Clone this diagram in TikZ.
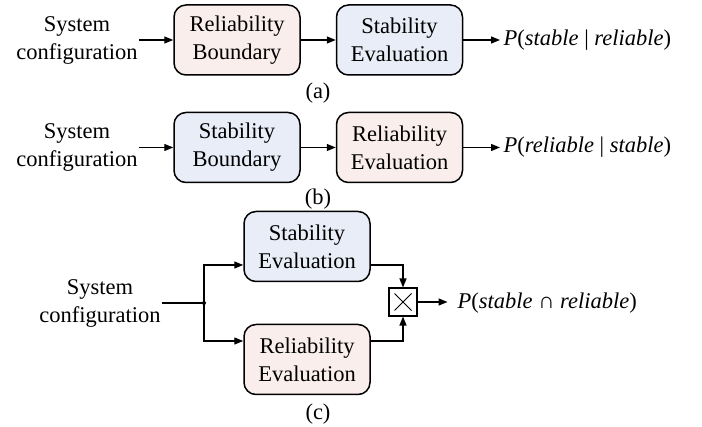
\documentclass[tikz,border=0pt]{standalone}
\usepackage{fontspec}
\setmainfont{Liberation Serif}
\usetikzlibrary{arrows.meta,calc}
\definecolor{relpink}{HTML}{F9EEEB}
\definecolor{stabblue}{HTML}{E9EDF8}
\begin{document}
\begin{tikzpicture}[
  x=1pt, y=-1pt,
  font=\fontsize{22.5}{28}\selectfont,
  every path/.style={line width=1.3pt},
  >={Triangle[length=9pt,width=7pt]},
  block/.style={draw, line width=1.5pt, rounded corners=12pt,
    minimum width=126pt, minimum height=70pt, align=center, inner sep=0pt},
  relblock/.style={block, fill=relpink},
  stabblock/.style={block, fill=stabblue},
  inp/.style={align=center, inner sep=1pt},
  outp/.style={anchor=west, inner xsep=3pt, inner ysep=0pt},
  tag/.style={inner sep=0pt}]
  \useasboundingbox (0,0) rectangle (702,427);
    % (a) reliability boundary first, then stability
    \node[inp] (sysA) at (77,40) {System\\configuration};
    \node[relblock] (relA) at (237,40) {Reliability\\Boundary};
    \node[stabblock] (stabA) at (399.5,40) {Stability\\Evaluation};
    \node[outp] (outA) at (500,40) {\textit{P}(\textit{stable} | \textit{reliable})};
    \node[tag] (tagA) at (318,93) {(a)};
    \draw[->] (sysA.east) -- (relA.west);
    \draw[->] (relA) -- (stabA);
    \draw[->] (stabA.east) -- (outA.west);
    % (b) stability boundary first, then reliability
    \node[inp] (sysB) at (77,147.5) {System\\configuration};
    \node[stabblock] (stabB) at (237,147.5) {Stability\\Boundary};
    \node[relblock] (relB) at (399.5,147.5) {Reliability\\Evaluation};
    \node[outp] (outB) at (500,147.5) {\textit{P}(\textit{reliable} | \textit{stable})};
    \node[tag] (tagB) at (318,199) {(b)};
    \draw[->] (sysB.east) -- (stabB.west);
    \draw[->] (stabB) -- (relB);
    \draw[->] (relB.east) -- (outB.west);
    % (c) both evaluated in parallel and multiplied
    \node[inp] (sysC) at (100,303) {System\\configuration};
    \coordinate (split) at (204,303);
    \node[stabblock] (stabC) at (307,246.5) {Stability\\Evaluation};
    \node[relblock] (relC) at (307,359.5) {Reliability\\Evaluation};
    \node[draw, line width=1.1pt, minimum size=28pt, inner sep=0pt] (mult) at (403,302) {};
    \draw[line width=0.9pt] ($(mult.center)+(-8.5,-8.5)$) -- ($(mult.center)+(8.5,8.5)$)
      ($(mult.center)+(-8.5,8.5)$) -- ($(mult.center)+(8.5,-8.5)$);
    \node[outp] (outC) at (454,303) {\textit{P}(\textit{stable} ∩ \textit{reliable})};
    \node[tag] (tagC) at (318,414) {(c)};
    \draw (sysC.east) -- (split);
    \fill (split) circle (2pt);
    \draw[->] (split) |- ($(stabC.west)+(0,18.5)$);
    \draw[->] (split) |- ($(relC.west)+(0,-18.5)$);
    \draw[->] ($(stabC.east)+(0,18.5)$) -| (mult.north);
    \draw[->] ($(relC.east)+(0,-18.5)$) -| (mult.south);
    \draw[->] (mult.east) -- ++(30,0);
\end{tikzpicture}
\end{document}
